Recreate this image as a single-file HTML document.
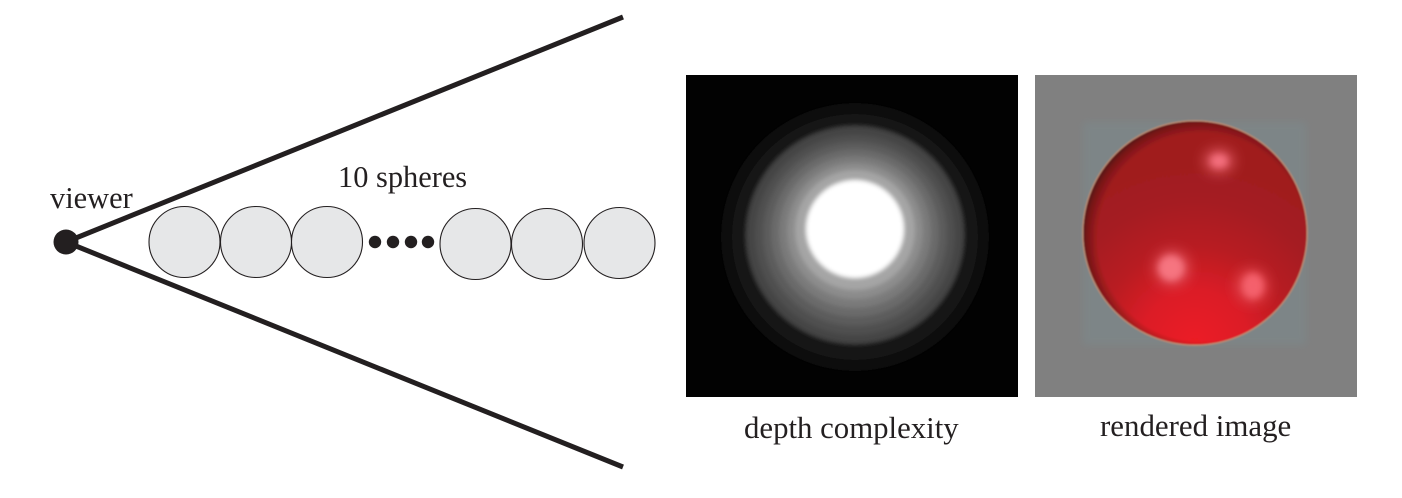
<!DOCTYPE html>
<html lang="en">
<head>
<meta charset="utf-8">
<title>Depth complexity figure</title>
<style>
html,body{margin:0;padding:0;background:#fff;width:1402px;height:498px;overflow:hidden}
svg{display:block}
text{font-family:"Liberation Serif",serif;fill:#231f20}
</style>
</head>
<body>
<svg id="fig" width="1402" height="498" viewBox="0 0 1402 498">
  <defs>
    <filter id="soft" x="-20%" y="-20%" width="140%" height="140%"><feGaussianBlur stdDeviation="2"/></filter>
    <filter id="core" x="-60%" y="-60%" width="220%" height="220%"><feGaussianBlur stdDeviation="3.5"/></filter>
    <filter id="halo-blur" x="-10%" y="-10%" width="120%" height="120%"><feGaussianBlur stdDeviation="4"/></filter>
    <filter id="edge" x="-5%" y="-5%" width="110%" height="110%"><feGaussianBlur stdDeviation="0.7"/></filter>
    <filter id="softer" x="-80%" y="-80%" width="260%" height="260%"><feGaussianBlur stdDeviation="7"/></filter>
    <radialGradient id="red-body" cx="50%" cy="100%" r="80%">
      <stop offset="0" stop-color="#ec1c24"/>
      <stop offset="0.3" stop-color="#dc1f26"/>
      <stop offset="0.55" stop-color="#b81e22"/>
      <stop offset="0.8" stop-color="#a51c20"/>
      <stop offset="1" stop-color="#a01b1f"/>
    </radialGradient>
    <radialGradient id="red-edge" cx="53%" cy="52%" r="53%">
      <stop offset="0.88" stop-color="#4c100e" stop-opacity="0"/>
      <stop offset="0.97" stop-color="#4c100e" stop-opacity="0.5"/>
      <stop offset="1" stop-color="#4c100e" stop-opacity="0.8"/>
    </radialGradient>
    <clipPath id="depth-clip"><rect x="686" y="75" width="332" height="322"/></clipPath>
    <clipPath id="photo-clip"><rect x="1035" y="75" width="322" height="322"/></clipPath>
  </defs>

  <line x1="66" y1="242" x2="623" y2="17" stroke="#231f20" stroke-width="5"/>
  <line x1="66" y1="242" x2="623" y2="467" stroke="#231f20" stroke-width="5"/>
  <circle cx="66" cy="242" r="12.5" fill="#231f20"/>
  <text x="50" y="208" font-size="30.4">viewer</text>
  <text x="338" y="187" font-size="30.4">10 spheres</text>

  <g id="spheres"></g>
  <g id="dots"></g>

  <g>
    <rect x="686" y="75" width="332" height="322" fill="#020202"/>
    <g id="rings" clip-path="url(#depth-clip)" filter="url(#soft)"></g>
  </g>
  <text x="744" y="438" font-size="30.8">depth complexity</text>

  <g>
    <rect x="1035" y="75" width="322" height="322" fill="#808080"/>
    <g clip-path="url(#photo-clip)">
      <rect x="1083" y="122" width="223" height="223" fill="#7a8c90" opacity="0.45" filter="url(#halo-blur)"/>
    </g>
    <g filter="url(#edge)">
      <circle cx="1195" cy="233" r="113" fill="#b98c76"/>
      <circle cx="1195" cy="233" r="111.5" fill="url(#red-body)"/>
      <circle cx="1195" cy="233" r="111.5" fill="url(#red-edge)"/>
    </g>
    <ellipse cx="1219" cy="161" rx="14" ry="11" fill="#e8606c" filter="url(#softer)"/>
    <ellipse cx="1219" cy="161" rx="8" ry="6" fill="#f4707e" filter="url(#core)"/>
    <ellipse cx="1172" cy="268" rx="16" ry="16" fill="#e8606c" filter="url(#softer)"/>
    <ellipse cx="1171" cy="268" rx="12" ry="12" fill="#f67480" filter="url(#core)"/>
    <ellipse cx="1252" cy="286" rx="15" ry="16" fill="#e85058" filter="url(#softer)"/>
    <ellipse cx="1253" cy="286" rx="10" ry="12" fill="#f4606c" filter="url(#core)"/>
  </g>
  <text x="1100" y="436" font-size="30.9">rendered image</text>
</svg>
<script>
// Left diagram: sphere and dot positions along the row
const sphereCenters = [184.5, 256, 327, 475.5, 547, 619.5];
const sphereRows = [242, 242, 242, 244, 244, 243];
const dotCenters = [375, 393, 411, 428];
// Depth-complexity rings, outside to inside: radius and grey level
const ringRadii = [134, 123, 109, 100, 92, 84, 76, 68, 60, 49];
const ringGreys = [9, 20, 68, 80, 92, 106, 122, 140, 165, 255];
const ringRowOffsets = [8, 8, 6, 6, 5, 4, 3, 2, 1, 0];

const NS = 'http://www.w3.org/2000/svg';
const spheres = document.getElementById('spheres');
sphereCenters.forEach(function (cx, i) {
  const c = document.createElementNS(NS, 'circle');
  c.setAttribute('cx', cx);
  c.setAttribute('cy', sphereRows[i]);
  c.setAttribute('r', 35.5);
  c.setAttribute('fill', '#e6e7e8');
  c.setAttribute('stroke', '#231f20');
  c.setAttribute('stroke-width', 1.1);
  
  
  spheres.appendChild(c);
});
const dots = document.getElementById('dots');
dotCenters.forEach(function (cx) {
  const c = document.createElementNS(NS, 'circle');
  c.setAttribute('cx', cx);
  c.setAttribute('cy', 242);
  c.setAttribute('r', 6.2);
  c.setAttribute('fill', '#231f20');
  
  
  dots.appendChild(c);
});
const rings = document.getElementById('rings');
ringRadii.forEach(function (r, i) {
  const c = document.createElementNS(NS, 'circle');
  const g = ringGreys[i];
  c.setAttribute('cx', 855);
  c.setAttribute('cy', 229 + ringRowOffsets[i]);
  c.setAttribute('r', r);
  c.setAttribute('fill', 'rgb(' + g + ',' + g + ',' + g + ')');
  
  
  rings.appendChild(c);
});
</script>
</body>
</html>
